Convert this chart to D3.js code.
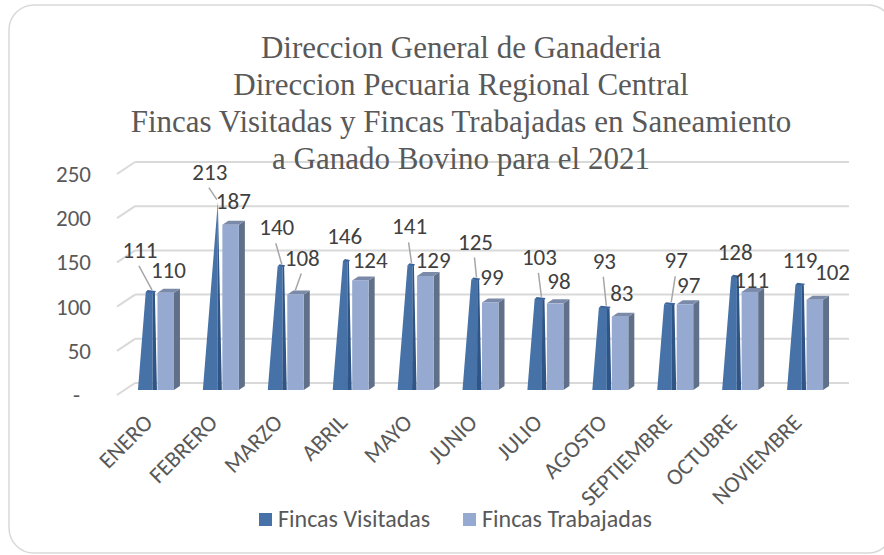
<!DOCTYPE html>
<html>
<head>
<meta charset="utf-8">
<script src="https://cdn.jsdelivr.net/npm/d3@7"></script>
<style>
  body { margin: 0; background: #fff; }
  svg text { font-family: Carlito, Lato, "Open Sans", sans-serif; }
</style>
</head>
<body>
<div id="chart"></div>
<script>
// data
var months = ["ENERO", "FEBRERO", "MARZO", "ABRIL", "MAYO", "JUNIO", "JULIO",
              "AGOSTO", "SEPTIEMBRE", "OCTUBRE", "NOVIEMBRE"];
var visitadas  = [111, 213, 140, 146, 141, 125, 103, 93, 97, 128, 119];
var trabajadas = [110, 187, 108, 124, 129, 99, 98, 83, 97, 111, 102];
var yTicks = [0, 50, 100, 150, 200, 250];
var seriesNames = ["Fincas Visitadas", "Fincas Trabajadas"];
var titleLines = ["Direccion General de Ganaderia",
                  "Direccion Pecuaria Regional Central",
                  "Fincas Visitadas y Fincas Trabajadas en Saneamiento",
                  "a Ganado Bovino para el 2021"];

// hand-moved data labels (offset from bar top) and whether a leader line is shown
var nudgeVis = [[-12,-42],[-7,-30],[-5,-39],[-2,-25],[-2,-39],[-1,-38],[-2,-42],[-2,-47],[5,-44],[-1,-25],[-1,-25]];
var nudgeTra = [[3,-21],[3,-22],[7,-35],[10,-18],[8,-14],[2,-24],[4,-20],[2,-22],[4,-17],[2,-10],[18,-26]];
var leaderVis = [1,1,1,0,1,1,1,1,1,0,0];
var leaderTra = [0,0,1,0,0,0,0,0,0,0,0];

var W = 884, H = 555;
var svg = d3.select("#chart").append("svg")
    .attr("width", W).attr("height", H);

// chart border
svg.append("rect")
    .attr("x", 9).attr("y", 5)
    .attr("width", 884).attr("height", 548)
    .attr("rx", 25)
    .attr("fill", "#fff")
    .attr("stroke", "#d9d9d9")
    .attr("stroke-width", 1.5);

// back wall scales
var x = d3.scaleBand().domain(months).range([135, 849]);
var y = d3.scaleLinear().domain([0, 250]).range([383, 162]);

// 3d depth: front edge of floor, and the plane the bars stand in
var front = {dx: -18, dy: 12};
var mid = {dx: -10.5, dy: 7};

// gridlines (back wall + side wall diagonal)
var grid = svg.append("g");
yTicks.forEach(function(t) {
  grid.append("line")
      .attr("x1", x.range()[0]).attr("x2", x.range()[1])
      .attr("y1", y(t)).attr("y2", y(t))
      .attr("stroke", "#d9d9d9").attr("stroke-width", 2);
  grid.append("line")
      .attr("x1", x.range()[0] + front.dx).attr("y1", y(t) + front.dy)
      .attr("x2", x.range()[0]).attr("y2", y(t))
      .attr("stroke", "#d9d9d9").attr("stroke-width", 2);
});

// y labels
svg.append("g").selectAll("text")
    .data(yTicks)
  .enter().append("text")
    .attr("x", function(t) { return t === 0 ? 80 : 91; })
    .attr("y", function(t) { return y(t) + front.dy; })
    .attr("dy", "0.35em")
    .attr("text-anchor", "end")
    .attr("fill", "#595959")
    .style("font-size", "23px")
    .text(function(t) { return t === 0 ? "-" : t; });

function cx(i) { return x(months[i]) + x.bandwidth() / 2 + mid.dx; }
function yb(v) { return y(v) + mid.dy; }

var maxV = d3.max(visitadas);
var bars = svg.append("g");

months.forEach(function(m, i) {
  var c = cx(i), base = yb(0);

  // Fincas Visitadas: pyramid truncated at the value
  var v = visitadas[i], t = v / maxV, top = yb(v);
  var apex = c - 4;
  var xl = c - 19, xm = c - 4.5, xr = c;
  var lerp = function(a) { return a + (apex - a) * t; };
  bars.append("path")
      .attr("d", "M" + xl + "," + base + "L" + xm + "," + base +
                 "L" + lerp(xm) + "," + top + "L" + lerp(xl) + "," + top + "Z")
      .attr("fill", "#4672a8");
  bars.append("path")
      .attr("d", "M" + xm + "," + base + "L" + xr + "," + base +
                 "L" + lerp(xr) + "," + (top + 1) + "L" + lerp(xm) + "," + top + "Z")
      .attr("fill", "#2f5486");
  if (t < 0.99) {
    bars.append("path")
        .attr("d", "M" + lerp(xl) + "," + top + "L" + (lerp(xl) + 2) + "," + (top - 2) +
                   "L" + (lerp(xr) + 1) + "," + (top - 1) + "L" + lerp(xr) + "," + (top + 1) + "Z")
        .attr("fill", "#3c649a");
  }

  // Fincas Trabajadas: 3d box
  var w = trabajadas[i], tw = yb(w);
  var bx0 = c + 0.5, bx1 = c + 17, d = 6, e = 4;
  bars.append("path")
      .attr("d", "M" + bx1 + "," + base + "L" + (bx1 + d) + "," + (base - e) +
                 "L" + (bx1 + d) + "," + (tw - e) + "L" + bx1 + "," + tw + "Z")
      .attr("fill", "#607089");
  bars.append("path")
      .attr("d", "M" + bx0 + "," + tw + "L" + (bx0 + d) + "," + (tw - e) +
                 "L" + (bx1 + d) + "," + (tw - e) + "L" + bx1 + "," + tw + "Z")
      .attr("fill", "#7a8aa8");
  bars.append("rect")
      .attr("x", bx0).attr("y", tw)
      .attr("width", bx1 - bx0).attr("height", base - tw)
      .attr("fill", "#95a9d1");
});

// data labels with leader lines
var labels = svg.append("g");
function addLabel(ax, ay, val, nudge, leader) {
  var lx = ax + nudge[0], ly = ay + nudge[1];
  if (leader) {
    labels.append("line")
        .attr("x1", lx - 1).attr("y1", ly + 16)
        .attr("x2", ax).attr("y2", ay - 2)
        .attr("stroke", "#a6a6a6").attr("stroke-width", 1.5);
  }
  labels.append("text")
      .attr("x", lx).attr("y", ly)
      .attr("dy", "0.35em")
      .attr("text-anchor", "middle")
      .attr("fill", "#404040")
      .style("font-size", "23px")
      .text(val);
}
months.forEach(function(m, i) {
  var c = cx(i);
  addLabel(c - 5, yb(visitadas[i]), visitadas[i], nudgeVis[i], leaderVis[i]);
  addLabel(c + 8.5, yb(trabajadas[i]) - 2, trabajadas[i], nudgeTra[i], leaderTra[i]);
});

// x labels
svg.append("g").selectAll("text")
    .data(months)
  .enter().append("text")
    .attr("transform", function(m, i) {
      return "translate(" + (cx(i) - 3) + ",424) rotate(-45)";
    })
    .attr("text-anchor", "end")
    .attr("fill", "#595959")
    .style("font-size", "23px")
    .text(function(m) { return m; });

// title
svg.append("g").selectAll("text")
    .data(titleLines)
  .enter().append("text")
    .attr("x", 461)
    .attr("y", function(d, i) { return 58 + i * 37; })
    .attr("text-anchor", "middle")
    .attr("fill", "#595959")
    .style("font-family", "'Liberation Serif', 'Times New Roman', serif")
    .style("font-size", "31px")
    .text(function(d) { return d; });

// legend
var legendColors = ["#4672a8", "#95a9d1"];
var legendX = [259, 463];
var legend = svg.append("g");
seriesNames.forEach(function(s, i) {
  legend.append("rect")
      .attr("x", legendX[i]).attr("y", 513)
      .attr("width", 13).attr("height", 13)
      .attr("fill", legendColors[i]);
  legend.append("text")
      .attr("x", legendX[i] + 19).attr("y", 527)
      .attr("fill", "#595959")
      .style("font-size", "24px")
      .text(s);
});
</script>
</body>
</html>
